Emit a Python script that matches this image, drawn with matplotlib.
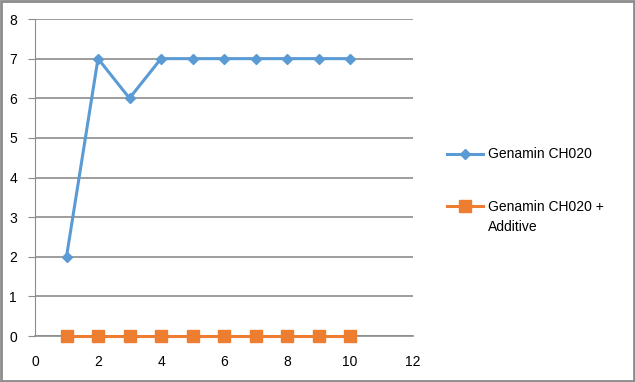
import matplotlib.pyplot as plt
from matplotlib.patches import Rectangle

# data
runs = [1, 2, 3, 4, 5, 6, 7, 8, 9, 10]
genamin = [2, 7, 6, 7, 7, 7, 7, 7, 7, 7]
genamin_additive = [0, 0, 0, 0, 0, 0, 0, 0, 0, 0]

plt.rcParams['font.family'] = ['Liberation Sans', 'DejaVu Sans']

fig = plt.figure(figsize=(6.35, 3.82), dpi=100)
ax = fig.add_axes([35 / 635, 46 / 382, 378 / 635, 317 / 382])

ax.plot(runs, genamin, color='#5B9BD5', lw=2.2, marker='D', ms=5,
        label='Genamin CH020', zorder=3, clip_on=False)
ax.plot(runs, genamin_additive, color='#ED7D31', lw=2.2, marker='s', ms=8,
        label='Genamin CH020 +', zorder=3, clip_on=False)

ax.set_xlim(0, 12)
ax.set_ylim(0, 8)
ax.set_xticks(range(0, 13, 2))
ax.set_yticks(range(0, 9))
ax.grid(axis='y', color='#8C8C8C', lw=1.2)
ax.set_axisbelow(True)
for s in ['top', 'right']:
    ax.spines[s].set_visible(False)
ax.spines['left'].set_color('#8C8C8C')
ax.spines['bottom'].set_color('#8C8C8C')
ax.spines['bottom'].set_linewidth(1.2)
ax.tick_params(axis='y', length=5, color='#8C8C8C', labelsize=10, pad=8)
ax.tick_params(axis='x', length=0, labelsize=10, pad=14)

leg = ax.legend(loc='upper left', bbox_to_anchor=(1.09, 0.595), frameon=False,
                fontsize=10, handlelength=2.6, handletextpad=0.35,
                labelspacing=2.75, borderpad=0, borderaxespad=0)

# second line of the orange legend label, placed under its first line
fig.canvas.draw()
bb = leg.get_texts()[1].get_window_extent()
fig.text(bb.x0 / 635, (bb.y0 - 20) / 382, 'Additive', fontsize=10,
         ha='left', va='bottom')

fig.patches.append(Rectangle((0.0015, 0.0025), 0.997, 0.995, transform=fig.transFigure,
                             fill=False, edgecolor='#8C8C8C', lw=2))

fig.savefig('out.png', dpi=100)
